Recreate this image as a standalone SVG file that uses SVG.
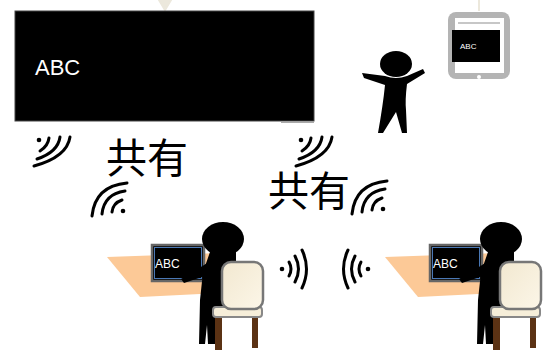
<svg xmlns="http://www.w3.org/2000/svg" width="552" height="358" viewBox="0 0 552 358">
  <style>
    .lbl { font-family: "Liberation Sans", Arial, sans-serif; fill: #ffffff; }
    .cjk { font-family: "Noto Sans CJK JP", "Noto Sans CJK SC", sans-serif; fill: #000000; font-size: 41px; }
    .wave { fill: none; stroke: #000; stroke-width: 3; stroke-linecap: round; }
    .desk { fill: #fcc997; }
    .monitor { fill: #000; stroke: #666; stroke-width: 2.5; }
    .monitorIn { fill: none; stroke: #4a78b5; stroke-width: 1; }
    .chairBack { fill: url(#cream); stroke: #777; stroke-width: 2.5; }
    .chairSeat { fill: #f6eed9; stroke: #888; stroke-width: 2; }
    .chairLeg { fill: #5b3214; }
    .link { stroke: #ece8dc; stroke-width: 2; fill: #ece8dc; }
  </style>
  <defs>
    <linearGradient id="cream" x1="0" y1="0" x2="1" y2="1">
      <stop offset="0" stop-color="#f2e8d0"/>
      <stop offset="1" stop-color="#fcf6e8"/>
    </linearGradient>
    <!-- signal glyph: dot at origin, arcs opening toward lower-right -->
    <g id="sigA">
      <circle cx="0" cy="0" r="2.3" fill="#000"/>
      <path class="wave" d="M 10 -2 Q 9 6 1 11"/>
      <path class="wave" d="M 21 -3 Q 19 12 -2 19"/>
      <path class="wave" d="M 31 -3 Q 28 17 -5 26"/>
    </g>
    <!-- signal glyph: dot at origin, arcs opening toward upper-left -->
    <g id="sigB">
      <circle cx="0" cy="0" r="2.3" fill="#000"/>
      <path class="wave" d="M -11 1 Q -10 -8 -1 -11"/>
      <path class="wave" d="M -21 3 Q -19 -17 2 -20"/>
      <path class="wave" d="M -31 5 Q -28 -25 4 -28"/>
    </g>
    <!-- signal glyph: dot at origin, arcs to the right -->
    <g id="sigC">
      <circle cx="0" cy="0" r="2.3" fill="#000"/>
      <path class="wave" d="M 7 -7 Q 11 0 7 7"/>
      <path class="wave" d="M 13 -13 Q 20 0 13 13"/>
      <path class="wave" d="M 20 -19 Q 29 0 20 19"/>
    </g>
    <!-- seated user at a desk -->
    <g id="station">
      <polygon class="desk" points="107,257 220,253 220,293 140,297"/>
      <rect class="monitor" x="152" y="245" width="52" height="36"/>
      <rect class="monitorIn" x="154.5" y="247.5" width="47" height="31"/>
      <text class="lbl" x="155" y="268" font-size="12">ABC</text>
      <ellipse cx="223" cy="239" rx="21" ry="17" fill="#000"/>
      <path fill="#000" d="M 210 252 L 236 252 L 236 310 L 222 318 L 216 344 L 208 344 L 207 325 L 205 344 L 199 344 L 200 300 L 203 272 Z"/>
      <path fill="#000" d="M 209 262 L 181 279 L 184 283 L 214 273 Z"/>
      <rect class="chairLeg" x="215" y="316" width="7" height="34"/>
      <rect class="chairLeg" x="252" y="316" width="6" height="32"/>
      <rect class="chairSeat" x="213" y="307" width="49" height="10" rx="3"/>
      <rect class="chairBack" x="222" y="262" width="41" height="47" rx="9"/>
    </g>
  </defs>

  <!-- connectors -->
  <g id="connectors">
    <polygon class="link" points="159,0 171,0 165,10"/>
    <line class="link" x1="479" y1="0" x2="479" y2="11"/>
  </g>

  <!-- shared main display -->
  <g id="board">
    <rect x="15" y="11" width="299" height="110" fill="#000" stroke="#444" stroke-width="1"/>
    <line x1="281" y1="122.5" x2="314" y2="122.5" stroke="#aaa" stroke-width="1"/>
    <text class="lbl" x="35" y="75" font-size="22">ABC</text>
  </g>

  <!-- tablet -->
  <g id="tablet">
    <rect x="448" y="12" width="62" height="67" rx="8" fill="#b4b4b4"/>
    <rect x="455" y="18" width="49" height="55" fill="#fff"/>
    <line x1="458" y1="23" x2="500" y2="23" stroke="#b4b4b4" stroke-width="1.5"/>
    <rect x="452" y="30" width="48" height="32" fill="#000"/>
    <text class="lbl" x="460" y="49" font-size="8">ABC</text>
    <circle cx="479" cy="77" r="2" fill="#fff"/>
  </g>

  <!-- standing person -->
  <g id="presenter">
    <ellipse cx="396" cy="64" rx="16" ry="13" fill="#000"/>
    <path fill="#000" d="M 362 73 L 385 76 Q 396 80 407 76 L 423 69 L 425 73 L 407 84 Q 405 100 406 110 L 407 133 L 402 133 L 396 112 L 383 133 L 378 133 Q 383 105 385 85 L 364 78 Z"/>
  </g>

  <!-- share labels -->
  <g id="share1"><text class="cjk" x="106" y="173">共有</text></g>
  <g id="share2"><text class="cjk" x="268" y="206">共有</text></g>

  <!-- signals -->
  <g id="signals">
    <use href="#sigA" x="39" y="140"/>
    <use href="#sigB" x="123" y="211"/>
    <use href="#sigA" x="301" y="140"/>
    <use href="#sigB" x="383" y="209"/>
    <use href="#sigC" x="282" y="269"/>
    <use href="#sigC" transform="translate(650,0) scale(-1,1)" x="282" y="269"/>
  </g>

  <!-- workstations -->
  <g id="station-left"><use href="#station"/></g>
  <g id="station-right"><use href="#station" x="278"/></g>
</svg>
